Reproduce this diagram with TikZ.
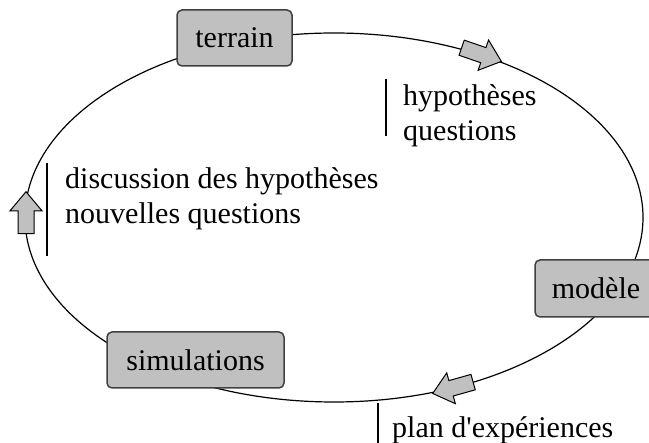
\documentclass[tikz,border=0pt]{standalone}
\usepackage{fontspec}
\setmainfont{Liberation Serif}
\usetikzlibrary{shapes.geometric,shapes.arrows}
\definecolor{boxgray}{RGB}{192,192,192}
\definecolor{edgegray}{RGB}{64,64,64}

\begin{document}
\begin{tikzpicture}[x=1pt, y=-1pt,
  stage/.style={draw=edgegray, line width=1.5pt, fill=boxgray, rounded corners=5pt,
    minimum height=56pt, inner sep=0pt, font=\fontsize{30}{35}\selectfont},
  flow/.style={single arrow, draw=black, line width=1pt, fill=boxgray, minimum height=42pt,
    minimum width=0pt, inner sep=7.5pt, single arrow head extend=8pt, single arrow tip angle=80},
  note/.style={anchor=north west, align=left, inner sep=0pt, font=\fontsize{30}{35}\selectfont}]
  \useasboundingbox (0,0) rectangle (649,443);
  \clip (0,0) rectangle (649,443);
  %% 1. Cycle
  \node[draw, ellipse, line width=1.2pt, minimum width=618pt, minimum height=369pt, inner sep=0pt] (cycle) at (334,217.5) {};
  %% 2. Arrows on the cycle
  \node[flow, rotate=-19] (toright) at (477,53) {};
  \node[flow, rotate=195.7] (toleft) at (457.5,386.5) {};
  \node[flow, rotate=90] (toup) at (26,217.5) {};
  %% 3. Stages
  \node[stage, minimum width=115pt] (terrain) at (234.5,38) {terrain};
  \node[stage, minimum width=122pt, minimum height=57pt] (modele) at (596,288.5) {modèle};
  \node[stage, minimum width=177pt] (simulations) at (195.5,360) {simulations};
  %% 4. Notes and bars
  \coordinate (hypbar) at (386,79);
  \coordinate (discbar) at (47,163);
  \coordinate (planbar) at (378,443);
  \draw[line width=1.2pt] (hypbar) -- ++(0,57);
  \draw[line width=1.2pt] (discbar) -- ++(0,93);
  \draw[line width=1.2pt] (planbar) -- (planbar |- cycle.south);
  \node[note] (hyp) at (403,84) {hypothèses\\questions};
  \node[note] (disc) at (65,167) {discussion des hypothèses\\nouvelles questions};
  \node[note] (plan) at (392,416) {plan d\textquotesingle expériences};
\end{tikzpicture}
\end{document}
